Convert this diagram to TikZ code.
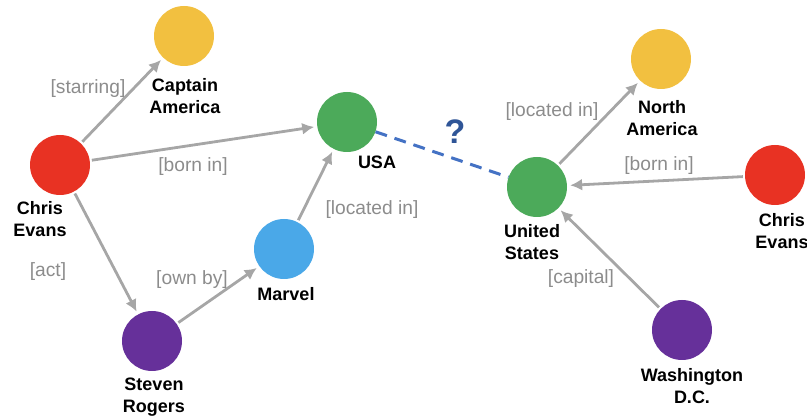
\documentclass[tikz,border=0pt]{standalone}
\usepackage{fontspec}
\setmainfont{Liberation Sans}
\usetikzlibrary{arrows.meta}

\definecolor{entred}{HTML}{E83223}
\definecolor{entyellow}{HTML}{F2C040}
\definecolor{entgreen}{HTML}{4CAA5A}
\definecolor{entblue}{HTML}{4AA8E8}
\definecolor{entpurple}{HTML}{66309A}
\definecolor{relgray}{HTML}{A6A6A6}
\definecolor{reltext}{HTML}{8C8C8C}
\definecolor{linkblue}{HTML}{4472C4}
\definecolor{askblue}{HTML}{2F5597}

\begin{document}
\begin{tikzpicture}[x=1pt, y=-1pt,
    entity/.style={circle, minimum size=60pt, inner sep=0pt},
    entname/.style={align=center, font=\fontsize{18}{22}\selectfont\bfseries, inner sep=0pt},
    reltag/.style={text=reltext, font=\fontsize{19.2}{22}\selectfont, inner sep=0pt},
    relarrow/.style={draw=relgray, line width=2.8pt, -{Latex[length=12pt,width=12pt]}, shorten <=2pt, shorten >=3pt}
    ]

            \useasboundingbox (0,0) rectangle (807,419);

            % entities of the first graph
            \node [entity, fill=entred] (chrisL) at (60,165) {};
            \node [entity, fill=entyellow] (captain) at (184,36) {};
            \node [entity, fill=entgreen] (usa) at (347,122) {};
            \node [entity, fill=entblue] (marvel) at (284,249) {};
            \node [entity, fill=entpurple] (steven) at (152,341) {};

            % entities of the second graph
            \node [entity, fill=entgreen] (unitedst) at (537,187) {};
            \node [entity, fill=entyellow] (northam) at (661,59) {};
            \node [entity, fill=entred] (chrisR) at (775,175) {};
            \node [entity, fill=entpurple] (washdc) at (682,330) {};

            % names
            \node [entname] (chrisL-txt) at (40,219) {Chris\\Evans};
            \node [entname] (captain-txt) at (185,96) {Captain\\America};
            \node [entname] (usa-txt) at (377,162) {USA};
            \node [entname] (marvel-txt) at (286,294) {Marvel};
            \node [entname] (steven-txt) at (154,397) {Steven\\Rogers};
            \node [entname] (unitedst-txt) at (532,242) {United\\States};
            \node [entname] (northam-txt) at (662,118) {North\\America};
            \node [entname] (chrisR-txt) at (782,231) {Chris\\Evans};
            \node [entname] (washdc-txt) at (692,386) {Washington\\D.C.};

            % relations
            \draw [relarrow] (chrisL) -- (captain);
            \draw [relarrow] (chrisL) -- (usa);
            \draw [relarrow] (chrisL) -- (steven);
            \draw [relarrow] (steven) -- (marvel);
            \draw [relarrow] (marvel) -- (usa);

            \draw [relarrow] (unitedst) -- (northam);
            \draw [relarrow] (chrisR) -- (unitedst);
            \draw [relarrow] (washdc) -- (unitedst);

            \node [reltag] (starring-txt) at (88,89) {[starring]};
            \node [reltag] (bornL-txt) at (193,167) {[born in]};
            \node [reltag] (locL-txt) at (372,210) {[located in]};
            \node [reltag] (act-txt) at (48,272) {[act]};
            \node [reltag] (ownby-txt) at (192,280) {[own by]};
            \node [reltag] (locR-txt) at (552,112) {[located in]};
            \node [reltag] (bornR-txt) at (659,166) {[born in]};
            \node [reltag] (capital-txt) at (581,279) {[capital]};

            % same entity?
            \draw [linkblue, line width=3pt, dash pattern=on 12pt off 8pt] (usa) -- (unitedst);
            \node [text=askblue, font=\fontsize{34}{34}\selectfont\bfseries, inner sep=0pt] (ask) at (455,132) {?};

\end{tikzpicture}
\end{document}
